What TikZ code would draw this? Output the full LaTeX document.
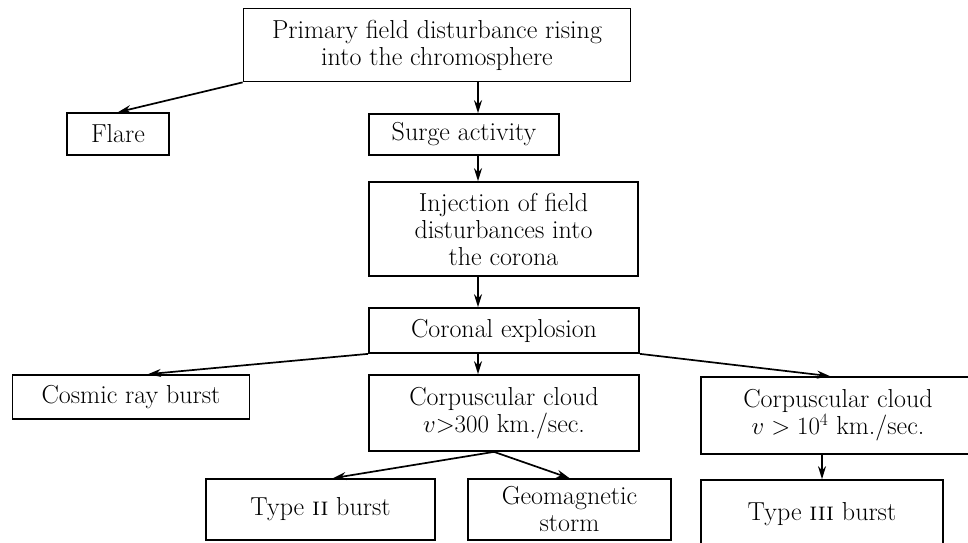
\documentclass[tikz,border=0pt]{standalone}
\usepackage{fontspec}
\usetikzlibrary{arrows.meta,calc}
\begin{document}
\begin{tikzpicture}[x=1pt,y=-1pt,
  box/.style={draw,line width=1.7pt,inner sep=0pt,align=center,
    font=\fontsize{26}{27}\selectfont},
  arr/.style={line width=1.7pt,-{Stealth[length=13pt,width=8pt]}}]
\useasboundingbox (0,0) rectangle (968,542);
\node[box,minimum width=387pt,minimum height=73pt] (primary) at (437,45)
  {Primary field disturbance rising\\into the chromosphere};
\node[box,minimum width=102pt,minimum height=42pt] (flare) at (118,134) {Flare};
\node[box,minimum width=190pt,minimum height=41pt] (surge) at (464,134.5) {Surge activity};
\node[box,minimum width=269pt,minimum height=94pt] (inject) at (503.5,229)
  {Injection of field\\disturbances into\\the corona};
\node[box,minimum width=270pt,minimum height=45pt] (coronal) at (504,330.5) {Coronal explosion};
\node[box,minimum width=237pt,minimum height=44pt] (cosmic) at (131,397) {Cosmic ray burst};
\node[box,minimum width=270pt,minimum height=76pt] (corpmid) at (504,413)
  {Corpuscular cloud\\$v{>}300$ km./sec.};
\node[box,minimum width=274pt,minimum height=77pt] (corpright) at (838,415.5)
  {Corpuscular cloud\\$v>10^4$ km./sec.};
\node[box,minimum width=229pt,minimum height=61pt] (typeii) at (320.5,509.5) {Type \textsc{ii} burst};
\node[box,minimum width=242pt,minimum height=68pt] (typeiii) at (822,514)
  {\raisebox{4pt}{Type \textsc{iii} burst}};
\node[box,minimum width=203pt,minimum height=61pt] (geo) at (569.5,509.5) {Geomagnetic\\storm};
\coordinate (spine) at (478,0);
\draw[arr] (primary.south west) -- (flare.north);
\draw[arr] (primary.south -| spine) -- (surge.north -| spine);
\draw[arr] (surge.south -| spine) -- (inject.north -| spine);
\draw[arr] (inject.south -| spine) -- (coronal.north -| spine);
\draw[arr] (coronal.south west) -- ([xshift=17pt]cosmic.north);
\draw[arr] (coronal.south -| spine) -- (corpmid.north -| spine);
\draw[arr] (coronal.south east) -- ([xshift=-8pt]corpright.north);
\draw[arr] ([xshift=-10pt]corpmid.south) -- ([xshift=12.5pt]typeii.north);
\draw[arr] ([xshift=-10pt]corpmid.south) -- (geo.north);
\draw[arr] (corpright.south -| typeiii.north) -- (typeiii.north);
\end{tikzpicture}
\end{document}
